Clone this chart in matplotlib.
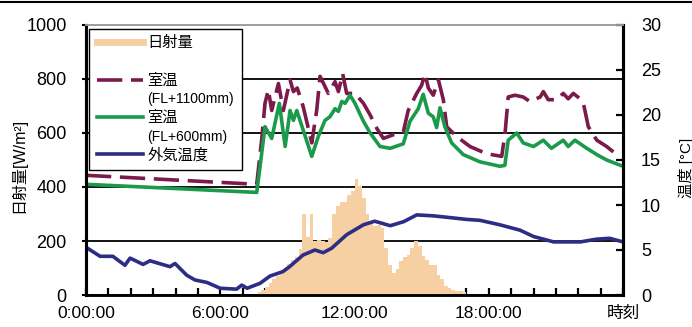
import matplotlib
matplotlib.use("Agg")
import matplotlib.pyplot as plt
from matplotlib.lines import Line2D
from matplotlib.ticker import MultipleLocator

plt.rcParams['font.family'] = ['Liberation Sans', 'Noto Sans CJK JP', 'DejaVu Sans']

# -------------------------
# Data (time in hours)
# -------------------------
# solar radiation, 10-minute bars starting at 7:40
sun_start = 7 + 40 / 60
sun_step = 10 / 60
sun_wm2 = [10, 20, 30, 45, 60, 70, 85, 100, 115, 130, 140, 170,
           300, 215, 300, 200, 205, 200, 195, 210, 300, 330, 345, 345,
           370, 385, 430, 405, 360, 300, 270, 255, 260, 250, 175, 110,
           80, 95, 125, 140, 150, 175, 200, 180, 145, 130, 110, 110,
           75, 60, 35, 25, 20, 15, 15, 10]
sun_hours = [sun_start + i * sun_step for i in range(len(sun_wm2))]

# room temperature FL+1100mm
room_hi_h = [0.0, 7.63, 7.85, 8.0, 8.15, 8.3, 8.6, 8.82, 9.12, 9.27, 9.44, 9.71,
             10.09, 10.31, 10.46, 10.83, 11.13, 11.28, 11.47, 11.65, 12.02, 12.4,
             12.7, 13.0, 13.29, 13.73, 14.18, 14.4, 14.78, 15.0, 15.15, 15.3,
             15.52, 15.75, 15.97, 16.12, 16.57, 17.16, 17.9, 18.58, 18.73, 18.87,
             19.17, 19.54, 19.84, 20.3, 20.44, 20.66, 21.03, 21.33, 21.55, 21.78,
             22.08, 22.23, 22.45, 22.83, 23.27, 23.57]
room_hi_t = [13.3, 12.3, 17.2, 21.3, 22.8, 20.5, 23.5, 20.5, 23.9, 22.6, 23.0, 20.9,
             16.9, 20.5, 24.3, 22.4, 23.7, 22.6, 24.6, 22.4, 22.4, 21.3,
             20.0, 18.5, 17.4, 17.8, 18.1, 20.5, 22.4, 23.3, 24.6, 23.0,
             22.2, 23.9, 21.7, 18.7, 17.6, 16.5, 15.7, 15.4, 18.0, 22.0,
             22.2, 22.0, 21.5, 22.0, 22.6, 21.7, 21.7, 22.4, 21.8, 22.4,
             21.8, 21.3, 18.7, 17.2, 16.5, 15.9]

# room temperature FL+600mm
room_lo_h = [0.0, 7.63, 7.78, 8.0, 8.3, 8.64, 8.9, 9.12, 9.27, 9.42, 9.71, 10.09,
             10.38, 10.68, 10.9, 11.13, 11.28, 11.43, 11.58, 11.8, 12.02, 12.4,
             12.7, 13.14, 13.6, 14.18, 14.48, 14.85, 15.07, 15.3, 15.52, 15.67,
             15.82, 16.04, 16.34, 16.86, 17.6, 18.5, 18.72, 18.87, 19.25, 19.54,
             20.0, 20.44, 20.8, 21.33, 21.55, 21.85, 22.38, 22.83, 23.27, 24.0]
room_lo_t = [12.3, 11.4, 14.3, 18.7, 17.4, 21.3, 16.5, 20.5, 19.4, 20.5, 18.3, 15.4,
             17.6, 19.4, 19.8, 20.7, 20.4, 21.5, 21.3, 22.2, 21.3, 19.3,
             18.0, 16.5, 16.3, 16.8, 19.3, 20.7, 22.3, 20.2, 19.8, 18.6,
             20.8, 18.7, 16.9, 15.6, 14.8, 14.3, 14.4, 17.2, 18.0, 16.9,
             16.5, 17.2, 16.3, 17.2, 16.5, 17.2, 16.3, 15.6, 15.0, 14.3]

# outdoor temperature
outdoor_h = [0.0, 0.63, 1.2, 1.74, 1.97, 2.55, 2.86, 3.75, 3.98, 4.5, 4.87, 5.4,
             6.0, 6.73, 6.96, 7.2, 7.78, 8.22, 8.8, 9.1, 9.7, 10.23, 10.6, 10.98,
             11.65, 12.4, 12.9, 13.6, 14.2, 14.78, 15.5, 16.27, 17.0, 17.6, 18.5,
             19.4, 20.0, 20.9, 22.1, 22.8, 23.4, 24.0]
outdoor_t = [5.3, 4.3, 4.3, 3.3, 4.1, 3.4, 3.8, 3.15, 3.5, 2.2, 1.67, 1.4,
             0.75, 0.65, 1.1, 0.75, 1.3, 2.1, 2.6, 3.15, 4.44, 5.0, 4.7, 5.2,
             6.7, 7.8, 8.2, 7.7, 8.15, 8.9, 8.8, 8.6, 8.4, 8.3, 7.8,
             7.2, 6.5, 5.9, 5.9, 6.2, 6.3, 5.9]

xtick_pos = [0, 6, 12, 18, 24]
xtick_labels = ['0:00:00', '6:00:00', '12:00:00', '18:00:00', '時刻']

# colours
c_sun = '#f6cfa2'
c_hi = '#7b1a4b'
c_lo = '#1c9a4b'
c_out = '#2d2d85'

# -------------------------
# Figure
# -------------------------
fig = plt.figure(figsize=(6.92, 3.27), dpi=100)
ax = fig.add_axes([86 / 692, 32 / 327, 537 / 692, 270 / 327])
ax2 = ax.twinx()

ax.bar(sun_hours, sun_wm2, width=sun_step, align='edge', color=c_sun, linewidth=0)
ax.set_axisbelow(True)
ax.set_xlim(0, 24)
ax.set_ylim(0, 1000)
ax.set_yticks([0, 200, 400, 600, 800, 1000])
ax.yaxis.grid(True, color='black', lw=1.3)
ax.tick_params(axis='y', direction='out', length=3, width=1.5, pad=11, labelsize=13)
ax.set_xticks(xtick_pos)
ax.set_xticklabels(xtick_labels)
ax.xaxis.set_minor_locator(MultipleLocator(1))
ax.tick_params(axis='x', which='both', direction='in', length=5, width=1.6, pad=8,
               labelsize=12.5)
ax.get_xticklabels()[-1].set_fontsize(12)

l_hi, = ax2.plot(room_hi_h, room_hi_t, color=c_hi, lw=2.6, dashes=(7, 2.4))
l_lo, = ax2.plot(room_lo_h, room_lo_t, color=c_lo, lw=2.6)
l_out, = ax2.plot(outdoor_h, outdoor_t, color=c_out, lw=2.6)
ax2.set_ylim(0, 30)
ax2.set_yticks([0, 5, 10, 15, 20, 25, 30])
ax2.tick_params(axis='y', direction='in', length=5, width=1.6, pad=13, labelsize=13)

for a in (ax, ax2):
    a.spines['left'].set_linewidth(2.2)
    a.spines['right'].set_linewidth(2.2)
    a.spines['bottom'].set_linewidth(1.8)
    a.spines['top'].set_color('#a0a0a0')
    a.spines['top'].set_linewidth(1.3)

fig.text(18 / 692, 1 - 165 / 327, '日射量[W/m²]', rotation=90, ha='center', va='center',
         fontsize=11.5)
fig.text(678 / 692, 1 - 168 / 327, '温度 [°C]', rotation=90, ha='left', va='center',
         fontsize=11)

# legend
blank = Line2D([], [], color='none')
sun_handle = Line2D([], [], color=c_sun, lw=5)
handles = [sun_handle, blank, l_hi, blank, l_lo, blank, l_out]
labels = ['日射量', ' ', '室温', '(FL+1100mm)', '室温', '(FL+600mm)', '外気温度']
leg = ax2.legend(handles, labels, loc='upper left', bbox_to_anchor=(0.006, 0.986),
                 borderaxespad=0, frameon=True, fancybox=False, edgecolor='black',
                 fontsize=11, labelspacing=0.3, handlelength=3.0, handletextpad=0.3,
                 borderpad=0.5)
leg.get_frame().set_linewidth(1.0)
leg.get_frame().set_facecolor('white')
leg.get_frame().set_alpha(1)
for i in (3, 5):
    leg.get_texts()[i].set_fontsize(10)

fig.add_artist(Line2D([0, 1], [1 - 2 / 327, 1 - 2 / 327], transform=fig.transFigure,
                      color='black', lw=1.5))

fig.savefig('out.png', dpi=100)
